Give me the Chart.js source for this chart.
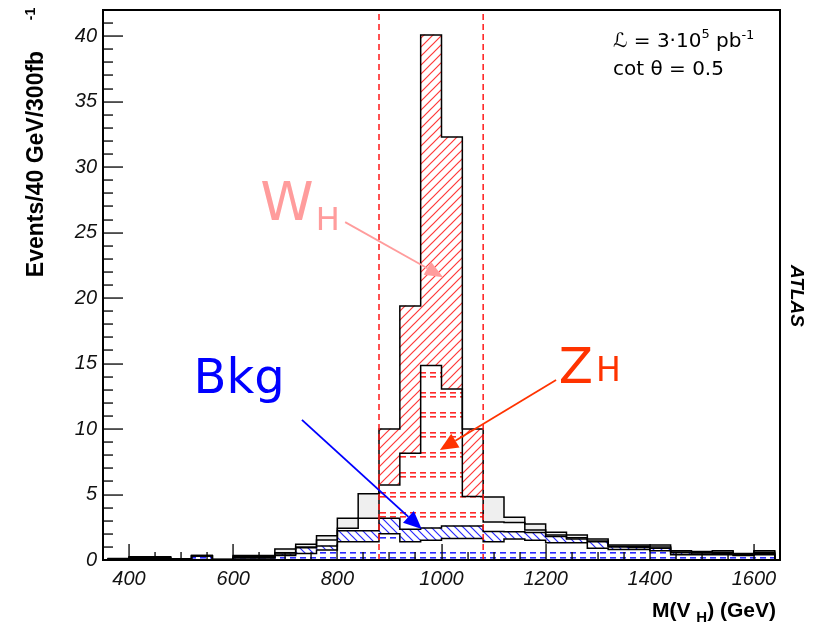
<!DOCTYPE html>
<html><head><meta charset="utf-8">
<script src="https://cdn.jsdelivr.net/npm/chart.js@4/dist/chart.umd.min.js"></script>
<style>html,body{margin:0;padding:0;background:#fff}#wrap{width:821px;height:627px;position:relative}canvas{display:block}</style>
</head><body><div id="wrap"><canvas id="c" width="821" height="627"></canvas></div>
<script>
// ---- data ----
const binCenters = [380,420,460,500,540,580,620,660,700,740,780,820,860,900,940,980,1020,1060,1100,1140,1180,1220,1260,1300,1340,1380,1420,1460,1500,1540,1580,1620];
const binWidth = 40;
const bkgFlat  = [0.05,0.1,0.1,0.05,0.3,0,0.15,0.15,0.35,0.5,0.77,1.4,1.4,2.0,1.4,1.5,1.65,1.65,1.4,1.6,1.5,1.32,1.32,0.9,0.8,0.8,0.7,0.4,0.4,0.4,0.35,0.4];
const bkgHatch = [0.03,0.05,0.05,0.03,0,0.02,0.05,0.05,0.1,0.44,0.3,0.84,0.84,1.19,0.95,0.95,0.95,0.95,0.77,0.55,0.6,0.48,0.28,0.5,0.2,0.15,0.2,0.15,0.05,0.1,0.05,0.1];
const zhVals   = [0.02,0.05,0.05,0.02,0.05,0.02,0.08,0.08,0.11,0.06,0.46,0.18,0.95,2.54,5.81,12.41,10.45,2.24,0.73,0.71,0.2,0.1,0.1,0.05,0.05,0.1,0.1,0.07,0.1,0.1,0.05,0.1];
const whVals   = [0.02,0.05,0.05,0,0,0.01,0.07,0.07,0.28,0.2,0.33,0.77,1.86,4.27,11.24,25.24,19.25,5.16,1.92,0.4,0.45,0.22,0.21,0.15,0.1,0.1,0.15,0.08,0.1,0.1,0.05,0.1];
const massWindow = [880, 1080];
const xTickLabels = [400,600,800,1000,1200,1400,1600];
const yTickLabels = [0,5,10,15,20,25,30,35,40];

// ---- patterns ----
function hatchPattern(color, dir, size, lw) {
  const c = document.createElement('canvas'); c.width = size; c.height = size;
  const g = c.getContext('2d');
  g.fillStyle = '#fff'; g.fillRect(0,0,size,size);
  g.strokeStyle = color; g.lineWidth = lw; g.beginPath();
  if (dir === '/') {
    g.moveTo(-1,size+1); g.lineTo(size+1,-1);
    g.moveTo(-1,1); g.lineTo(1,-1);
    g.moveTo(size-1,size+1); g.lineTo(size+1,size-1);
  } else {
    g.moveTo(-1,-1); g.lineTo(size+1,size+1);
    g.moveTo(size-1,-1); g.lineTo(size+1,1);
    g.moveTo(-1,size-1); g.lineTo(1,size+1);
  }
  g.stroke();
  return g.createPattern(c,'repeat');
}
function dashPattern(color, rows) {
  const c = document.createElement('canvas'); c.width = 10; c.height = 20;
  const g = c.getContext('2d');
  g.fillStyle = '#fff'; g.fillRect(0,0,10,20);
  g.fillStyle = color; rows.forEach(r => g.fillRect(0,r,6,1.6));
  return g.createPattern(c,'repeat');
}
const patWH = hatchPattern('#ff3838','/',9,1.2);
const patBkg = hatchPattern('#2a2aff','\\',8,1.2);
const patZH = dashPattern('#ff2a2a',[12,16]);
const patFlat = dashPattern('#2a2aff',[12,17]);

const inWindow = i => binCenters[i] > massWindow[0] && binCenters[i] < massWindow[1];

// cumulative tops for outlines
const layers = [bkgFlat, bkgHatch, zhVals, whVals];
const cumTops = [];
let run = binCenters.map(() => 0);
layers.forEach(l => { run = run.map((v,i) => v + l[i]); cumTops.push(run.slice()); });
function outline(tops) {
  const h = binWidth/2;
  const pts = [{x: binCenters[0]-h, y: 0}];
  tops.forEach((t,i) => { pts.push({x: binCenters[i]-h, y: t}); pts.push({x: binCenters[i]+h, y: t}); });
  pts.push({x: binCenters[binCenters.length-1]+h, y: 0});
  return pts;
}
const barData = arr => binCenters.map((x,i) => ({x, y: arr[i]}));

const datasets = [
  {type:'bar', label:'Bkg1', data: barData(bkgFlat), backgroundColor: patFlat, stack:'s', order:3},
  {type:'bar', label:'Bkg2', data: barData(bkgHatch), backgroundColor: patBkg, stack:'s', order:3},
  {type:'bar', label:'Z_H', data: barData(zhVals), backgroundColor: c => inWindow(c.dataIndex) ? patZH : '#ffffff', stack:'s', order:3},
  {type:'bar', label:'W_H', data: barData(whVals), backgroundColor: c => inWindow(c.dataIndex) ? patWH : '#efefef', stack:'s', order:3},
];
cumTops.forEach((t,k) => datasets.push({type:'line', data: outline(t), borderColor:'#000', borderWidth:1.5, pointRadius:0, fill:false, tension:0, stack:'o'+k, order:2}));
massWindow.forEach((m,k) => datasets.push({type:'line', data:[{x:m,y:0},{x:m,y:42}], borderColor:'#ff1a1a', borderWidth:1.5, borderDash:[6,4], pointRadius:0, fill:false, stack:'w'+k, order:1}));

// ---- decorations drawn via scales ----
const deco = {
  id:'deco',
  afterDraw(chart) {
    const {ctx, chartArea:a, scales:{x, y}} = chart;
    ctx.save();
    ctx.setLineDash([]);
    ctx.globalAlpha = 1;
    // inner ticks
    ctx.fillStyle = '#000';
    for (let v = 1; v < 42; v++) {
      const py = Math.round(y.getPixelForValue(v));
      const len = v % 5 === 0 ? 20 : 10;
      ctx.fillRect(a.left, py - 0.6, len, 1.3);
    }
    for (let v = 400; v < 1650; v += 50) {
      const px = Math.round(x.getPixelForValue(v));
      const len = v % 200 === 0 ? 16 : 8;
      ctx.fillRect(px - 0.6, a.bottom - len, 1.3, len);
    }
    // frame
    ctx.strokeStyle = '#000';
    ctx.lineWidth = 2; ctx.strokeRect(a.left, a.top, a.right - a.left, a.bottom - a.top);

    // labels with subscripts
    const P = (dx, dy) => [x.getPixelForValue(dx), y.getPixelForValue(dy)];
    ctx.textBaseline = 'alphabetic'; ctx.textAlign = 'left';
    const FAM = '"DejaVu Sans"';
    const subText = (main, sub, dx, dy, color, size, subSize, drop, gap) => {
      const [px, py] = P(dx, dy);
      ctx.fillStyle = color;
      ctx.font = size + 'px ' + FAM;
      ctx.fillText(main, px, py);
      const w = ctx.measureText(main).width;
      if (sub) { ctx.font = subSize + 'px ' + FAM; ctx.fillText(sub, px + w + gap, py + drop); }
    };
    subText('W','H',652,26,'#ff9c9c',54,32,10,2);
    subText('Z','H',1225,13.5,'#ff3300',50,33,-2,3);
    subText('Bkg','',524,12.75,'#0000ff',48,0,0,0);

    const arrow = (x1,y1,x2,y2,color,lw,hl,hw) => {
      const [p1x,p1y] = P(x1,y1), [p2x,p2y] = P(x2,y2);
      const ang = Math.atan2(p2y-p1y, p2x-p1x);
      const bx = p2x - hl*Math.cos(ang), by = p2y - hl*Math.sin(ang);
      ctx.strokeStyle = color; ctx.fillStyle = color; ctx.lineWidth = lw;
      ctx.beginPath(); ctx.moveTo(p1x,p1y); ctx.lineTo(bx,by); ctx.stroke();
      ctx.beginPath(); ctx.moveTo(p2x,p2y);
      ctx.lineTo(bx + hw/2*Math.sin(ang), by - hw/2*Math.cos(ang));
      ctx.lineTo(bx - hw/2*Math.sin(ang), by + hw/2*Math.cos(ang));
      ctx.closePath(); ctx.fill();
    };
    arrow(815,25.8,1003,21.6,'#ff9c9c',1.8,18,15);
    arrow(1220,13.75,997,8.4,'#ff3300',1.8,18,16);
    arrow(732,10.7,962,2.37,'#0000ff',1.9,18,16);

    // top-right text
    ctx.fillStyle = '#000';
    let tx = 613;
    const seg = (t, f, yy) => { ctx.font = f; ctx.fillText(t, tx, yy); tx += ctx.measureText(t).width; };
    seg('\u2112 = 3\u00b710', '20px "DejaVu Sans"', 47);
    seg('5', '13px "DejaVu Sans"', 38);
    seg(' pb', '20px "DejaVu Sans"', 47);
    seg('-1', '13px "DejaVu Sans"', 39);
    tx = 613;
    seg('cot \u03b8 = 0.5', '20px "DejaVu Sans"', 75);

    // y title
    ctx.save();
    ctx.translate(37, 164); ctx.rotate(-Math.PI/2);
    ctx.font = 'bold 23px "Liberation Sans"'; ctx.textAlign = 'center'; ctx.textBaseline = 'middle';
    ctx.fillText('Events/40 GeV/300fb', 0, 0);
    ctx.restore();
    ctx.save();
    ctx.translate(31, 14); ctx.rotate(-Math.PI/2);
    ctx.font = 'bold 14px "Liberation Sans"'; ctx.textAlign = 'center'; ctx.textBaseline = 'middle';
    ctx.fillText('-1', 0, 0);
    ctx.restore();

    // x title
    ctx.textAlign = 'left'; ctx.textBaseline = 'alphabetic';
    const f1 = 'bold 21px "Liberation Sans"', f2 = 'bold 15px "Liberation Sans"';
    ctx.font = f1; const wA = ctx.measureText('M(V ').width, wC = ctx.measureText(') (GeV)').width;
    ctx.font = f2; const wB = ctx.measureText('H').width;
    let sx = 776 - (wA + wB + wC);
    ctx.font = f1; ctx.fillText('M(V ', sx, 617); sx += wA;
    ctx.font = f2; ctx.fillText('H', sx, 622); sx += wB;
    ctx.font = f1; ctx.fillText(') (GeV)', sx, 617);

    // ATLAS
    ctx.save();
    ctx.translate(796, 296); ctx.rotate(Math.PI/2);
    ctx.font = 'italic bold 19px "Liberation Sans"'; ctx.textAlign = 'center'; ctx.textBaseline = 'middle';
    ctx.fillText('ATLAS', 0, 0);
    ctx.restore();
    ctx.restore();
  }
};

new Chart(document.getElementById('c'), {
  data: {datasets},
  options: {
    responsive: false, animation: false, devicePixelRatio: 1, events: [],
    layout: {padding: {left: 0, right: 41, top: 10, bottom: 0}},
    plugins: {legend: {display: false}, tooltip: {enabled: false}},
    datasets: {bar: {barPercentage: 1, categoryPercentage: 1, borderWidth: 0}},
    scales: {
      x: {
        type: 'linear', min: 350, max: 1650, stacked: true, offset: false,
        grid: {display: false, drawTicks: false}, border: {display: false},
        ticks: {stepSize: 200, autoSkip: false, maxRotation: 0, padding: 7, color: '#111',
                callback: v => String(v),
                font: {family: 'Liberation Sans', size: 20, style: 'italic'}},
        afterBuildTicks: s => { s.ticks = xTickLabels.map(v => ({value: v})); },
        afterFit: s => { s.height = 67; s.paddingLeft = 0; s.paddingRight = 0; }
      },
      y: {
        type: 'linear', min: 0, max: 42, stacked: true, offset: false,
        grid: {display: false, drawTicks: false}, border: {display: false},
        ticks: {stepSize: 5, padding: 6, color: '#111', callback: v => String(v),
                font: {family: 'Liberation Sans', size: 20, style: 'italic'}},
        afterBuildTicks: s => { s.ticks = yTickLabels.map(v => ({value: v})); },
        afterFit: s => { s.width = 103; s.paddingTop = 0; s.paddingBottom = 0; }
      }
    }
  },
  plugins: [deco]
});
</script>
</body></html>
